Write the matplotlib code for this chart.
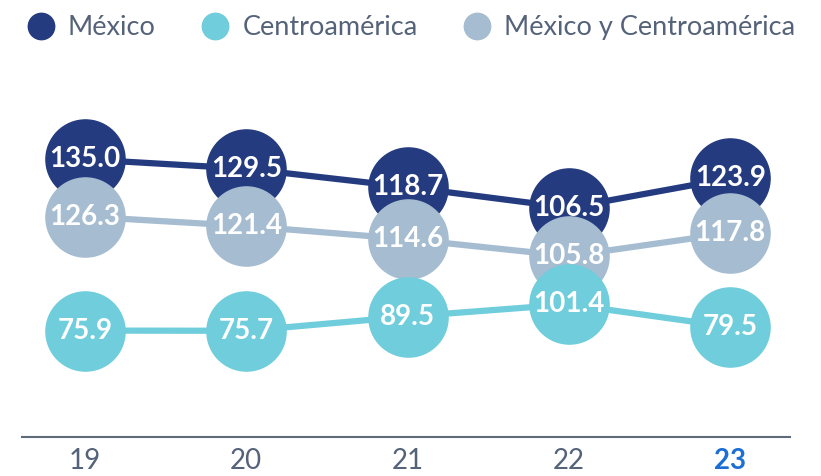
import matplotlib.pyplot as plt
from matplotlib.lines import Line2D

# data
years = [19, 20, 21, 22, 23]
year_labels = ["19", "20", "21", "22", "23"]
mexico = [135.0, 129.5, 118.7, 106.5, 123.9]
centroamerica = [75.9, 75.7, 89.5, 101.4, 79.5]
mex_y_ca = [126.3, 121.4, 114.6, 105.8, 117.8]

c_mex = "#243b7f"
c_ca = "#6fcddc"
c_myc = "#a6bcd0"
c_text = "#55637a"

plt.rcParams["font.family"] = ["Lato", "DejaVu Sans"]

fig = plt.figure(figsize=(8.21, 4.76), dpi=100)
ax = fig.add_axes([22 / 821, 39 / 476, 768 / 821, 337 / 476])

# each series gets its own vertical scale, like the designed original
ax_myc = ax.twinx()
ax_ca = ax.twinx()


def draw(a, vals, color, ylim):
    a.plot(years, vals, color=color, lw=4.5, marker="o", ms=57,
           mec=color, mfc=color, solid_capstyle="round", zorder=2)
    for x, v in zip(years, vals):
        a.text(x, v, f"{v:.1f}", ha="center", va="center", color="white",
               fontsize=20, fontweight="bold", zorder=3)
    a.set_ylim(*ylim)
    a.set_xlim(18.61, 23.37)


draw(ax, mexico, c_mex, (-28.3, 169.9))
draw(ax_myc, mex_y_ca, c_myc, (11.8, 186.9))
draw(ax_ca, centroamerica, c_ca, (-27.4, 299.7))

for a in (ax_myc, ax_ca):
    a.axis("off")

for s in ("top", "left", "right"):
    ax.spines[s].set_visible(False)
ax.spines["bottom"].set_color("#5f6b7a")
ax.spines["bottom"].set_linewidth(1.5)
ax.set_yticks([])
ax.set_xticks(years)
ax.set_xticklabels(year_labels)
ax.tick_params(axis="x", length=0, pad=8, labelsize=20, labelcolor=c_text)
last = ax.get_xticklabels()[-1]
last.set_color("#1b6fd4")
last.set_fontweight("bold")

handles = [Line2D([], [], ls="none", marker="o", ms=19, color=c)
           for c in (c_mex, c_ca, c_myc)]
fig.legend(handles, ["México", "Centroamérica", "México y Centroamérica"],
           loc="upper left", bbox_to_anchor=(30 / 821, 1 - 15 / 476), ncol=3,
           frameon=False, borderpad=0, borderaxespad=0,
           fontsize=19.5, labelcolor=c_text, handlelength=0.8,
           handletextpad=0.6, columnspacing=1.8)

fig.savefig("out.png", dpi=100)
